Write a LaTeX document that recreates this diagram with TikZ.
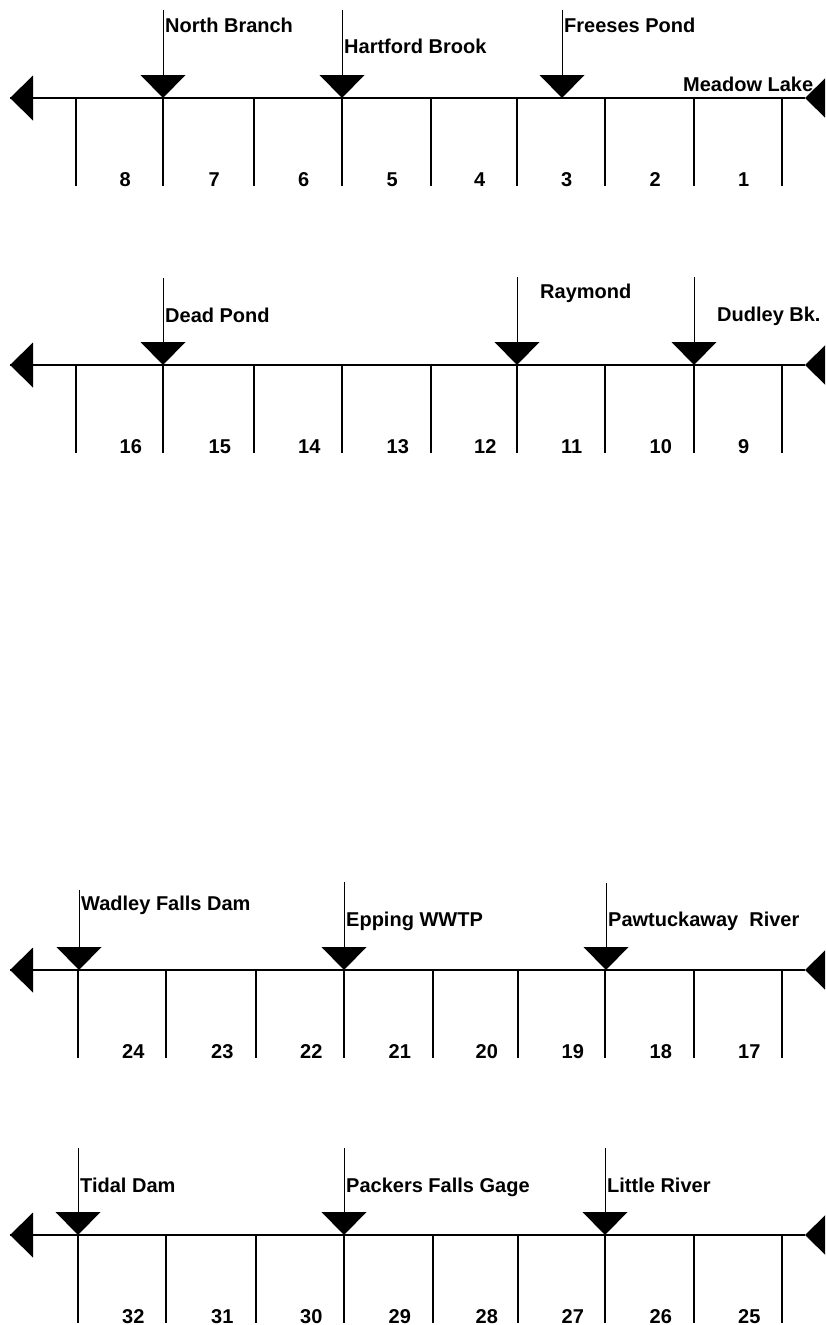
\documentclass[tikz,border=0pt]{standalone}
\usepackage{fontspec}
\setmainfont{Liberation Sans}
\usetikzlibrary{calc}
\begin{document}
\begin{tikzpicture}[x=1pt,y=-1pt,
  lbl/.style={font=\bfseries\fontsize{20}{22}\selectfont, inner sep=0pt, anchor=base west},
  num/.style={font=\bfseries\fontsize{20}{22}\selectfont, inner sep=0pt, anchor=base west},
  axis/.style={line width=2pt},
  tickline/.style={line width=1.4pt},
  leader/.style={line width=1pt},
  marker/.style={fill=black},
  endarrow/.style={fill=black}]
\useasboundingbox (0,0) rectangle (825,1325);
\clip (0,0) rectangle (825,1325);
\fill[white] (0,0) rectangle (825,1325);

% rows: axis, ticks, numbers, end arrows
\foreach \r/\Y/\base/\xs in {1/98/8/{76,163,254,342,431,517,605,694,782},
                             2/365/16/{76,163,254,342,431,517,605,694,782},
                             3/970/24/{78,166,256,344,433,518,605,694,782},
                             4/1235/32/{78,166,256,344,433,518,605,694,782}}{
  \coordinate (L\r) at (10,\Y);
  \coordinate (R\r) at (805,\Y);
  \draw[axis] (L\r) -- (R\r);
  \fill[endarrow] (L\r) -- ++(23,-22.5) -- ++(0,45) -- cycle;
  \fill[endarrow] (R\r) -- ++(23,-22.5) -- ++(0,45) -- cycle;
  \foreach \x [count=\i] in \xs {
    \coordinate (t\r-\i) at (\x,\Y);
    \draw[tickline] (t\r-\i) -- ++(0,88);
  }
  \foreach \i in {1,...,8}{
    \pgfmathtruncatemacro\j{\i+1}
    \pgfmathtruncatemacro\n{\base-\i+1}
    \node[num] (n\r-\i) at ($(t\r-\i)!0.5!(t\r-\j)+(0,88)$) {\n};
  }
}

% markers: name / x / line y / leader top / label x / label baseline / text
\foreach \m/\x/\Y/\top/\lx/\ly/\txt in {
   NB/163/98/10/165/32/North Branch,
   HB/342/98/10/344/53/Hartford Brook,
   FP/562/98/10/564/32/Freeses Pond,
   DP/163/365/278/165/322/Dead Pond,
   RY/517/365/277/540/298/Raymond,
   DB/694/365/277/717/321/Dudley Bk.,
   WF/79/970/890/81/910/Wadley Falls Dam,
   EW/344/970/882/346/926/Epping WWTP,
   PR/606/970/883/608/926/Pawtuckaway\ \ River,
   TD/78/1235/1148/80/1192/Tidal Dam,
   PF/344/1235/1148/346/1192/Packers Falls Gage,
   LR/605/1235/1148/607/1192/Little River}{
  \coordinate (m\m) at (\x,\Y);
  \coordinate (top\m) at (\x,\top);
  \draw[leader] (top\m) -- (m\m);
  \fill[marker] (m\m) -- ++(-22.5,-23) -- ++(45,0) -- cycle;
  \node[lbl] (lab\m) at (\lx,\ly) {\txt};
}
\node[lbl] (labML) at (683,91) {Meadow Lake};
\end{tikzpicture}
\end{document}
